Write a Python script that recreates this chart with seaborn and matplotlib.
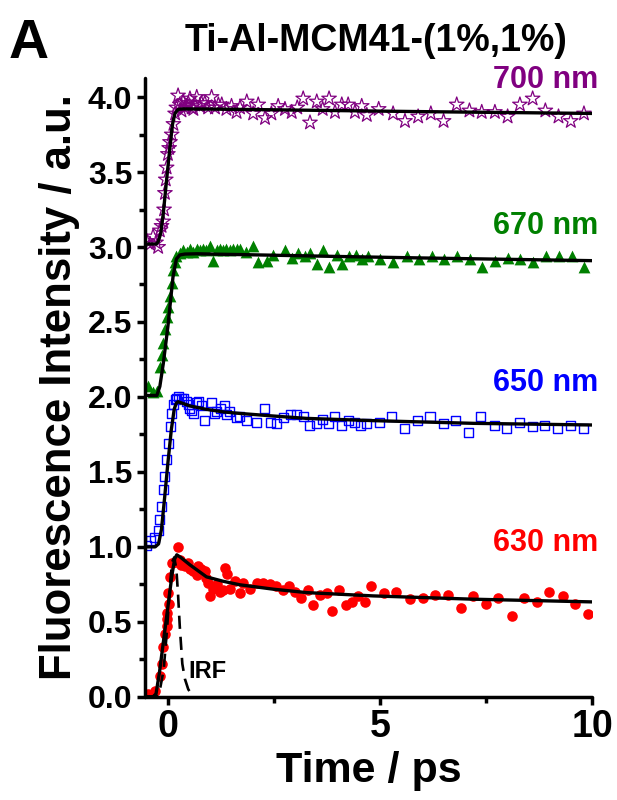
import matplotlib
matplotlib.use("Agg")
import matplotlib.pyplot as plt
import seaborn as sns
from matplotlib.ticker import MultipleLocator

# ---------------- data ----------------
t630 = [-0.46, -0.31, -0.19, -0.15, -0.11, -0.07, -0.03, -0.01, -0.03, 0.01, 0.03, 0.05, 0.09,
        0.16, 0.24, 0.28, 0.32, 0.40, 0.48, 0.52, 0.60, 0.68, 0.72, 0.79, 0.87, 0.91, 0.95, 0.99,
        1.07, 1.15, 1.23, 1.31, 1.34, 1.40, 1.46, 1.58, 1.70, 1.78, 1.93, 2.09, 2.25, 2.41, 2.56,
        2.72, 2.86, 3.00, 3.15, 3.31, 3.43, 3.58, 3.74, 3.88, 4.04, 4.20, 4.33, 4.49, 4.65, 4.79,
        5.10, 5.39, 5.71, 6.01, 6.30, 6.60, 6.90, 7.20, 7.50, 7.79, 8.11, 8.40, 8.70, 8.99, 9.31,
        9.60, 9.91]
y630 = [0.02, 0.04, 0.14, 0.22, 0.33, 0.42, 0.47, 0.52, 0.56, 0.69, 0.62, 0.80, 0.89,
        0.90, 1.00, 0.91, 0.88, 0.87, 0.89, 0.85, 0.84, 0.81, 0.87, 0.85, 0.84, 0.79, 0.76, 0.67,
        0.72, 0.75, 0.70, 0.71, 0.86, 0.82, 0.72, 0.77, 0.69, 0.76, 0.72, 0.76, 0.76, 0.75, 0.74,
        0.71, 0.74, 0.70, 0.66, 0.71, 0.61, 0.68, 0.69, 0.57, 0.71, 0.61, 0.63, 0.67, 0.63, 0.74,
        0.69, 0.70, 0.65, 0.66, 0.68, 0.68, 0.59, 0.67, 0.62, 0.66, 0.54, 0.66, 0.63, 0.70, 0.67,
        0.62, 0.55]

t650 = [-0.50, -0.42, -0.31, -0.23, -0.19, -0.15, -0.11, -0.07, -0.03, 0.01, 0.05, 0.09, 0.13,
        0.17, 0.20, 0.24, 0.32, 0.36, 0.44, 0.48, 0.52, 0.56, 0.60, 0.68, 0.72, 0.79, 0.87, 1.03,
        1.11, 1.15, 1.23, 1.34, 1.38, 1.46, 1.62, 1.70, 1.85, 2.09, 2.27, 2.41, 2.56, 2.72, 2.88,
        3.03, 3.19, 3.35, 3.51, 3.65, 3.78, 3.94, 4.10, 4.25, 4.41, 4.53, 4.69, 4.98, 5.27, 5.59,
        5.88, 6.18, 6.49, 6.79, 7.08, 7.37, 7.69, 7.99, 8.29, 8.59, 8.89, 9.18, 9.50, 9.80]
y650 = [1.01, 1.04, 1.06, 1.11, 1.18, 1.27, 1.38, 1.47, 1.58, 1.69, 1.80, 1.89, 1.95,
        1.98, 1.99, 2.00, 1.99, 1.99, 1.97, 1.95, 1.92, 1.91, 1.89, 1.96, 1.97, 1.94, 1.84, 1.96,
        1.89, 1.90, 1.92, 1.94, 1.88, 1.90, 1.86, 1.87, 1.84, 1.83, 1.92, 1.83, 1.82, 1.86, 1.88,
        1.88, 1.87, 1.81, 1.82, 1.85, 1.82, 1.87, 1.81, 1.84, 1.83, 1.81, 1.82, 1.83, 1.87, 1.79,
        1.84, 1.87, 1.82, 1.84, 1.76, 1.87, 1.81, 1.79, 1.83, 1.80, 1.81, 1.79, 1.81, 1.79]

t670 = [-0.46, -0.35, -0.25, -0.19, -0.15, -0.11, -0.07, -0.03, 0.01, 0.05, 0.09, 0.13, 0.17,
        0.20, 0.28, 0.36, 0.44, 0.52, 0.60, 0.68, 0.75, 0.83, 0.91, 1.00, 1.07, 1.15, 1.23, 1.31,
        1.38, 1.46, 1.54, 1.62, 1.70, 1.85, 2.01, 2.13, 2.33, 2.48, 2.76, 2.92, 3.07, 3.23, 3.36,
        3.51, 3.66, 3.80, 3.98, 4.10, 4.28, 4.43, 4.57, 4.72, 5.00, 5.31, 5.63, 5.93, 6.22, 6.51,
        6.81, 7.12, 7.40, 7.71, 8.01, 8.30, 8.62, 8.91, 9.21, 9.52, 9.81]
y670 = [2.07, 2.03, 2.04, 2.20, 2.28, 2.36, 2.45, 2.53, 2.60, 2.67, 2.76, 2.85, 2.90,
        2.94, 2.96, 2.98, 2.97, 2.99, 2.97, 2.99, 2.98, 2.99, 2.98, 3.01, 2.91, 2.98, 2.99, 2.98,
        2.99, 2.98, 2.99, 2.99, 2.99, 2.97, 3.01, 2.90, 2.91, 2.95, 2.98, 2.93, 2.96, 2.94, 2.96,
        2.89, 2.98, 2.87, 2.95, 2.89, 2.94, 2.95, 2.92, 2.94, 2.92, 2.90, 2.94, 2.92, 2.94, 2.92,
        2.94, 2.92, 2.87, 2.91, 2.93, 2.92, 2.90, 2.94, 2.94, 2.94, 2.87]

t700 = [-0.50, -0.42, -0.35, -0.28, -0.23, -0.19, -0.15, -0.11, -0.09, -0.07, -0.05, -0.03, 0.00,
        0.03, 0.05, 0.09, 0.13, 0.17, 0.20, 0.24, 0.28, 0.32, 0.36, 0.40, 0.44, 0.48, 0.52, 0.56,
        0.60, 0.64, 0.68, 0.75, 0.79, 0.87, 0.95, 1.03, 1.11, 1.19, 1.27, 1.38, 1.50, 1.62, 1.70,
        1.86, 2.01, 2.13, 2.29, 2.44, 2.60, 2.76, 2.92, 3.05, 3.19, 3.35, 3.51, 3.65, 3.80, 3.94,
        4.10, 4.25, 4.41, 4.57, 4.69, 4.97, 5.31, 5.59, 5.90, 6.20, 6.50, 6.81, 7.11, 7.40, 7.71,
        8.01, 8.30, 8.60, 8.90, 9.21, 9.50, 9.81]
y700 = [3.04, 3.02, 3.07, 3.03, 3.00, 3.11, 3.14, 3.17, 3.25, 3.36, 3.45, 3.53, 3.62,
        3.66, 3.70, 3.75, 3.82, 3.89, 3.93, 4.01, 3.95, 3.91, 3.97, 3.93, 3.94, 3.96, 3.99, 3.93,
        3.92, 3.95, 4.00, 3.94, 3.96, 3.96, 3.93, 4.00, 3.93, 3.95, 3.95, 3.92, 3.94, 3.90, 3.93,
        3.97, 3.89, 3.95, 3.86, 3.89, 3.94, 3.92, 3.90, 3.93, 3.99, 3.83, 3.97, 3.92, 3.99, 3.90,
        3.95, 3.95, 3.90, 3.94, 3.88, 3.92, 3.89, 3.84, 3.87, 3.89, 3.84, 3.95, 3.91, 3.90, 3.90,
        3.87, 3.95, 3.99, 3.91, 3.87, 3.84, 3.89]

# fitted curves
fit630_t = [-0.54, -0.35, -0.28, -0.20, -0.10, 0.00, 0.10, 0.16, 0.21, 0.30, 0.52, 0.91, 1.31,
            1.70, 2.48, 3.27, 4.84, 7.20, 10.0]
fit630_y = [0.0, 0.0, 0.02, 0.16, 0.38, 0.60, 0.82, 0.92, 0.947, 0.93, 0.88, 0.80, 0.77,
            0.747, 0.718, 0.695, 0.673, 0.651, 0.633]
fit650_t = [-0.54, -0.30, -0.22, -0.15, -0.08, 0.00, 0.08, 0.15, 0.20, 0.24, 0.52, 0.91, 1.31,
            1.70, 2.48, 3.27, 4.84, 7.20, 10.0]
fit650_y = [1.0, 1.0, 1.02, 1.12, 1.32, 1.56, 1.78, 1.92, 1.96, 1.968, 1.94, 1.917, 1.90,
            1.89, 1.873, 1.857, 1.842, 1.824, 1.813]
fit670_t = [-0.54, -0.26, -0.19, -0.11, 0.00, 0.08, 0.12, 0.20, 0.28, 0.40, 0.70, 1.0, 2.0,
            4.0, 6.0, 8.0, 10.0]
fit670_y = [2.01, 2.01, 2.07, 2.22, 2.47, 2.69, 2.80, 2.92, 2.947, 2.953, 2.955, 2.953, 2.948,
            2.937, 2.927, 2.918, 2.909]
fit700_t = [-0.54, -0.27, -0.23, -0.17, -0.11, -0.03, 0.05, 0.11, 0.165, 0.24, 0.36, 1.0, 2.0,
            4.0, 6.0, 8.0, 10.0]
fit700_y = [3.02, 3.02, 3.035, 3.09, 3.22, 3.45, 3.67, 3.82, 3.89, 3.918, 3.921, 3.92, 3.917,
            3.91, 3.903, 3.897, 3.891]
irf_t = [-0.54, -0.30, -0.20, -0.10, -0.02, 0.05, 0.10, 0.15, 0.20, 0.24, 0.28, 0.34, 0.40,
         0.48, 0.60]
irf_y = [0.0, 0.0, 0.03, 0.18, 0.45, 0.75, 0.90, 0.93, 0.85, 0.68, 0.47, 0.22, 0.12, 0.05, 0.0]

labels = ["630 nm", "650 nm", "670 nm", "700 nm"]
label_y = [1.027, 2.093, 3.14, 4.113]
colors = ["#ff0000", "#0000ff", "#008000", "#800080"]
xticks = [0, 5, 10]
yticks = [0.0, 0.5, 1.0, 1.5, 2.0, 2.5, 3.0, 3.5, 4.0]

# ---------------- figure ----------------
sns.set_style("ticks")
plt.rcParams["font.family"] = ["Liberation Sans", "DejaVu Sans"]
plt.rcParams["font.weight"] = "bold"
for key in ["text.color", "axes.labelcolor", "xtick.color", "ytick.color", "axes.edgecolor"]:
    plt.rcParams[key] = "black"

fig = plt.figure(figsize=(6.17, 8.0), dpi=100)
ax = fig.add_axes([0.235, 0.129, 0.7245, 0.774])

# scatter data
sns.scatterplot(x=t630, y=y630, ax=ax, marker="o", s=58, color=colors[0],
                edgecolor=colors[0], linewidth=0, zorder=2)
sns.scatterplot(x=t650, y=y650, ax=ax, marker="s", s=42, color=colors[1],
                edgecolor=colors[1], linewidth=1.0, zorder=2)
ax.collections[-1].set_facecolor("none")
sns.scatterplot(x=t670, y=y670, ax=ax, marker="^", s=72, color=colors[2],
                edgecolor=colors[2], linewidth=0, zorder=2)
sns.scatterplot(x=t700, y=y700, ax=ax, marker="*", s=120, color=colors[3],
                edgecolor=colors[3], linewidth=0.9, zorder=2)
ax.collections[-1].set_facecolor("none")

# fits
for ft, fy in [(fit630_t, fit630_y), (fit650_t, fit650_y), (fit670_t, fit670_y), (fit700_t, fit700_y)]:
    sns.lineplot(x=ft, y=fy, ax=ax, color="black", linewidth=2.4, sort=False,
                 estimator=None, zorder=4)
sns.lineplot(x=irf_t, y=irf_y, ax=ax, color="black", linewidth=1.9, sort=False,
             estimator=None, zorder=3, linestyle=(0, (5, 3)))

ax.set_xlim(-0.54, 10.0)
ax.set_ylim(0.0, 4.13)
ax.set_xticks(xticks)
ax.set_yticks(yticks)
ax.set_yticklabels([f"{v:.1f}" for v in yticks])
ax.xaxis.set_minor_locator(MultipleLocator(2.5))
ax.yaxis.set_minor_locator(MultipleLocator(0.25))

for sp in ["top", "right"]:
    ax.spines[sp].set_visible(False)
for sp in ["left", "bottom"]:
    ax.spines[sp].set_linewidth(2.5)
    ax.spines[sp].set_capstyle("round")

ax.tick_params(axis="both", which="major", direction="out", length=6, width=2.5,
               labelsize=23, pad=3, colors="black")
ax.tick_params(axis="both", which="minor", direction="out", length=4, width=2.5,
               colors="black")
ax.tick_params(axis="x", labelsize=27)
for lab in ax.get_xticklabels() + ax.get_yticklabels():
    lab.set_fontweight("bold")

ax.set_xlabel("Time / ps", fontsize=31, fontweight="bold", labelpad=4, color="black")
ax.set_ylabel("Fluorescence Intensity / a.u.", fontsize=31.5, fontweight="bold",
              labelpad=6, color="black")

for lab, ly, c in zip(labels, label_y, colors):
    ax.text(10.14, ly, lab, color=c, fontsize=22, fontweight="bold", ha="right",
            va="center", clip_on=False)
ax.text(0.94, 0.17, "IRF", color="black", fontsize=17, fontweight="bold", ha="center",
        va="center")

fig.text(0.014, 0.977, "A", fontsize=40, fontweight="bold", ha="left", va="top", color="black")
fig.text(0.61, 0.949, "Ti-Al-MCM41-(1%,1%)", fontsize=27, fontweight="bold", ha="center",
         va="center", color="black")

fig.savefig("out.png", dpi=100)
